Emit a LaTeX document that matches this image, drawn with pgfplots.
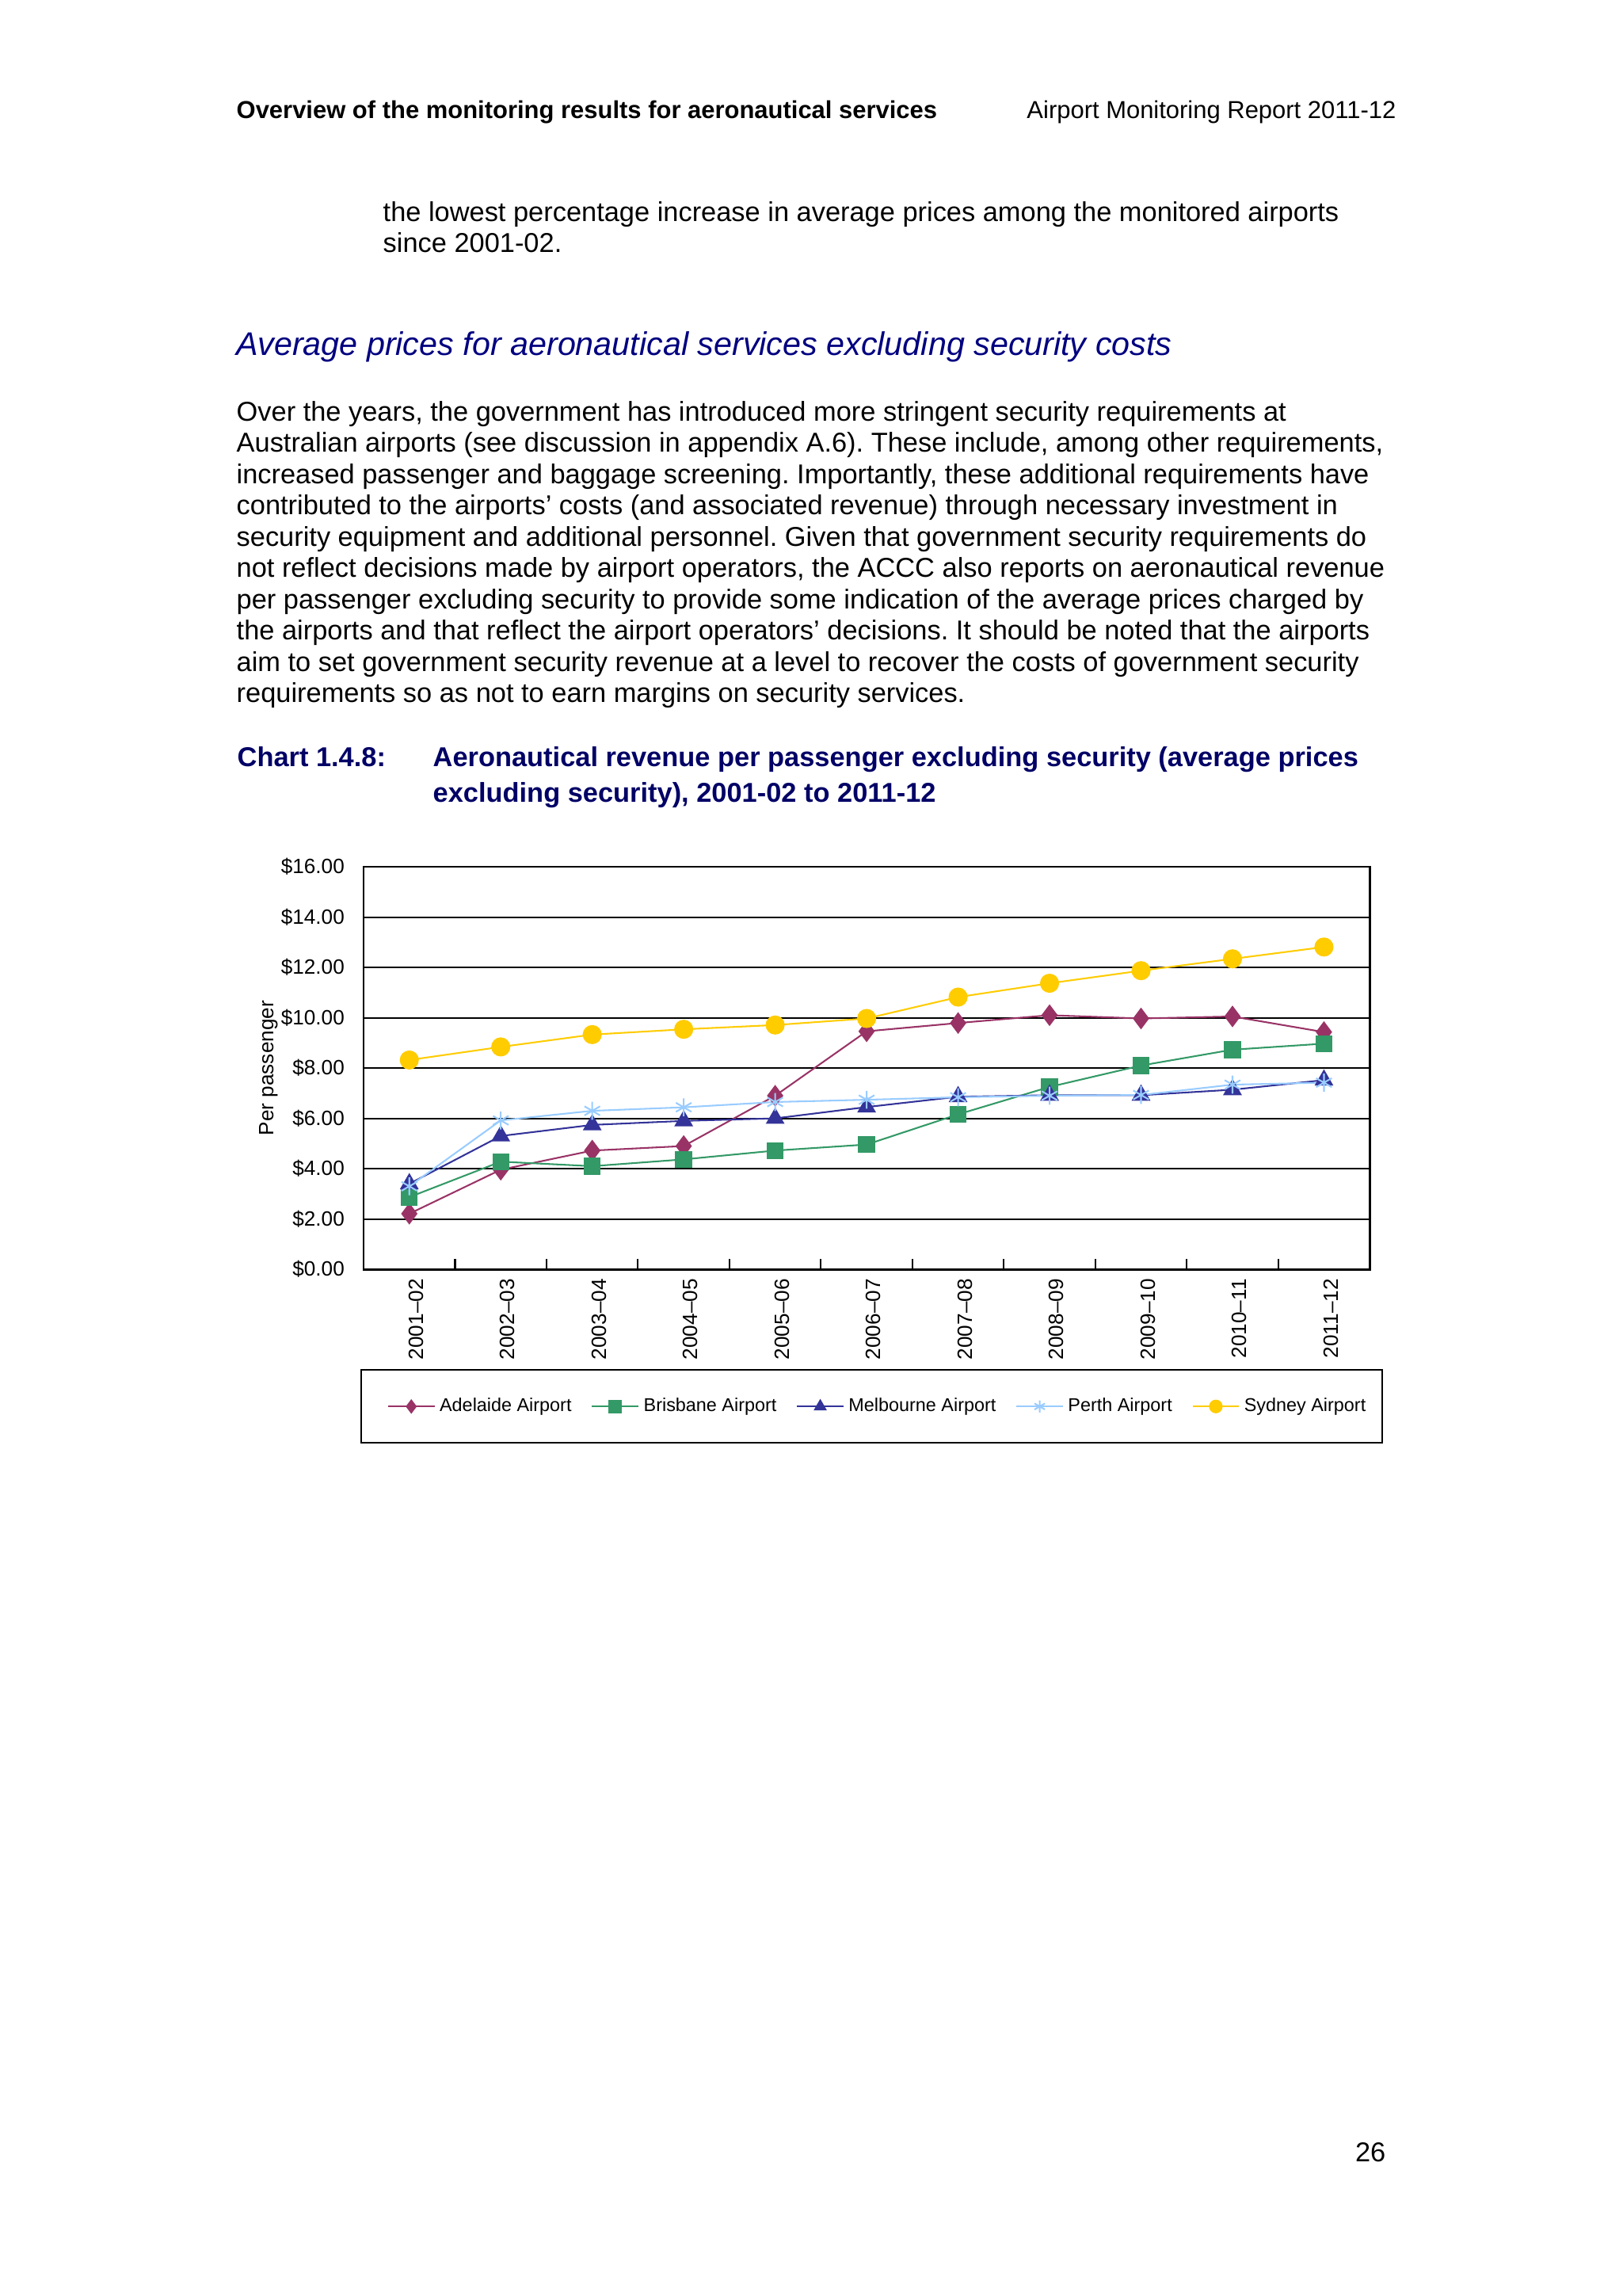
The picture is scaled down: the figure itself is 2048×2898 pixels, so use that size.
\documentclass[border=0pt]{standalone}
\usepackage{fontspec}
\setmainfont{Liberation Sans}
\usepackage{pgfplots}
\usepackage{pgfplotstable}
\pgfplotsset{compat=1.18}
\frenchspacing

\definecolor{adel}{RGB}{153,51,102}
\definecolor{bris}{RGB}{51,153,102}
\definecolor{melb}{RGB}{51,51,153}
\definecolor{perth}{RGB}{153,204,255}
\definecolor{syd}{RGB}{255,204,0}
\definecolor{headnavy}{RGB}{0,0,128}
\definecolor{capnavy}{RGB}{0,0,102}

% aeronautical revenue per passenger excl. security, $ per passenger
\pgfplotstableread{
x  adel  bris melb perth syd
0  2.21  2.87 3.40 3.30  8.32
1  3.96  4.28 5.30 5.92  8.84
2  4.72  4.10 5.74 6.30  9.33
3  4.90  4.37 5.90 6.44  9.54
4  6.90  4.72 6.00 6.65  9.71
5  9.46  4.96 6.45 6.74  9.97
6  9.79  6.16 6.86 6.84  10.82
7  10.10 7.25 6.92 6.90  11.37
8  9.97  8.10 6.92 6.93  11.87
9  10.05 8.73 7.14 7.34  12.34
10 9.43  8.97 7.52 7.42  12.81
}\prices

\newcommand{\px}{0.290664pt}

\begin{document}
\begin{tikzpicture}
\begin{scope}[x=\px, y=-\px]
\path[use as bounding box, fill=white] (0,0) rectangle (2048,2898);

% running header
\node[anchor=base west, inner sep=0, font=\fontsize{9}{10.35}\selectfont\bfseries] at (298,149)
  {Overview of the monitoring results for aeronautical services};
\node[anchor=base east, inner sep=0, font=\fontsize{9}{10.35}\selectfont] at (1763,149)
  {Airport Monitoring Report 2011-12};

\foreach \l [count=\i from 0] in {
  {the lowest percentage increase in average prices among the monitored airports},
  {since 2001-02.}}
  \node[anchor=base west, inner sep=0, font=\fontsize{10}{11.5}\selectfont] at (483,{279+39.2*\i}) {\l};

\node[anchor=base west, inner sep=0, text=headnavy, font=\fontsize{12}{13.8}\selectfont\itshape] at (298,448)
  {Average prices for aeronautical services excluding security costs};

\foreach \l [count=\i from 0] in {
  {Over the years, the government has introduced more stringent security requirements at},
  {Australian airports (see discussion in appendix A.6). These include, among other requirements,},
  {increased passenger and baggage screening. Importantly, these additional requirements have},
  {contributed to the airports’ costs (and associated revenue) through necessary investment in},
  {security equipment and additional personnel. Given that government security requirements do},
  {not reflect decisions made by airport operators, the ACCC also reports on aeronautical revenue},
  {per passenger excluding security to provide some indication of the average prices charged by},
  {the airports and that reflect the airport operators’ decisions. It should be noted that the airports},
  {aim to set government security revenue at a level to recover the costs of government security},
  {requirements so as not to earn margins on security services.}}
  \node[anchor=base west, inner sep=0, font=\fontsize{10}{11.5}\selectfont] at (298,{531+39.5*\i}) {\l};

% chart caption
\node[anchor=base west, inner sep=0, text=capnavy, font=\fontsize{10}{13}\selectfont\bfseries] at (299,967)
  {Chart 1.4.8:};
\node[anchor=base west, inner sep=0, text=capnavy, font=\fontsize{10}{13}\selectfont\bfseries] at (546,967)
  {Aeronautical revenue per passenger excluding security (average prices};
\node[anchor=base west, inner sep=0, text=capnavy, font=\fontsize{10}{13}\selectfont\bfseries] at (546,1012)
  {excluding security), 2001-02 to 2011-12};

% legend frame
\draw[black, line width=0.8pt] (456,1729) rectangle (1745,1821);

\node[anchor=base east, inner sep=0, font=\fontsize{10}{11.5}\selectfont] at (1750,2728) {26};

\coordinate (axNW) at (459,1094);
\end{scope}

\begin{axis}[
  at={(axNW)}, anchor=north west,
  scale only axis, width=369.2pt, height=147.7pt,
  xmin=-0.5, xmax=10.5, ymin=0, ymax=16,
  axis line style={black, line width=0.8pt},
  tick pos=left, tick align=inside,
  major tick length=0pt,
  minor tick length=3.8pt,
  minor xtick={0.5,1.5,...,9.5},
  minor tick style={black, line width=0.6pt},
  xtick={0,...,10},
  xticklabels={2001--02,2002--03,2003--04,2004--05,2005--06,2006--07,2007--08,2008--09,2009--10,2010--11,2011--12},
  x tick label style={rotate=90, anchor=east, yshift=-2.5pt},
  ytick={0,2,...,16},
  yticklabels={\$0.00,\$2.00,\$4.00,\$6.00,\$8.00,\$10.00,\$12.00,\$14.00,\$16.00},
  y tick label style={xshift=-3.5pt},
  tick label style={font=\fontsize{7.6}{9}\selectfont},
  ymajorgrids,
  major grid style={black, line width=0.6pt},
  ylabel={Per passenger},
  ylabel style={at={(axis description cs:-0.0945,0.5)}, anchor=center, font=\fontsize{7.6}{9}\selectfont},
  legend columns=5,
  legend style={at={(axis description cs:0.512,-0.3406)}, anchor=center, draw=none, fill=none,
    font=\fontsize{6.8}{8.2}\selectfont,
    nodes={inner xsep=1.6pt},
    /tikz/every even column/.append style={column sep=5.6pt}},
  legend image post style={mark size=2.2pt},
  every axis plot/.append style={line width=0.6pt},
]
\addplot[adel, mark=diamond*, mark size=3.5pt] table[x=x, y=adel] {\prices};
\addlegendentry{Adelaide Airport}
\addplot[bris, mark=square*, mark size=2.8pt] table[x=x, y=bris] {\prices};
\addlegendentry{Brisbane Airport}
\addplot[melb, mark=triangle*, mark size=3.4pt] table[x=x, y=melb] {\prices};
\addlegendentry{Melbourne Airport}
\addplot[perth, mark=asterisk, mark size=3.3pt] table[x=x, y=perth] {\prices};
\addlegendentry{Perth Airport}
\addplot[syd, mark=*, mark size=3.2pt] table[x=x, y=syd] {\prices};
\addlegendentry{Sydney Airport}
\end{axis}
\end{tikzpicture}
\end{document}
